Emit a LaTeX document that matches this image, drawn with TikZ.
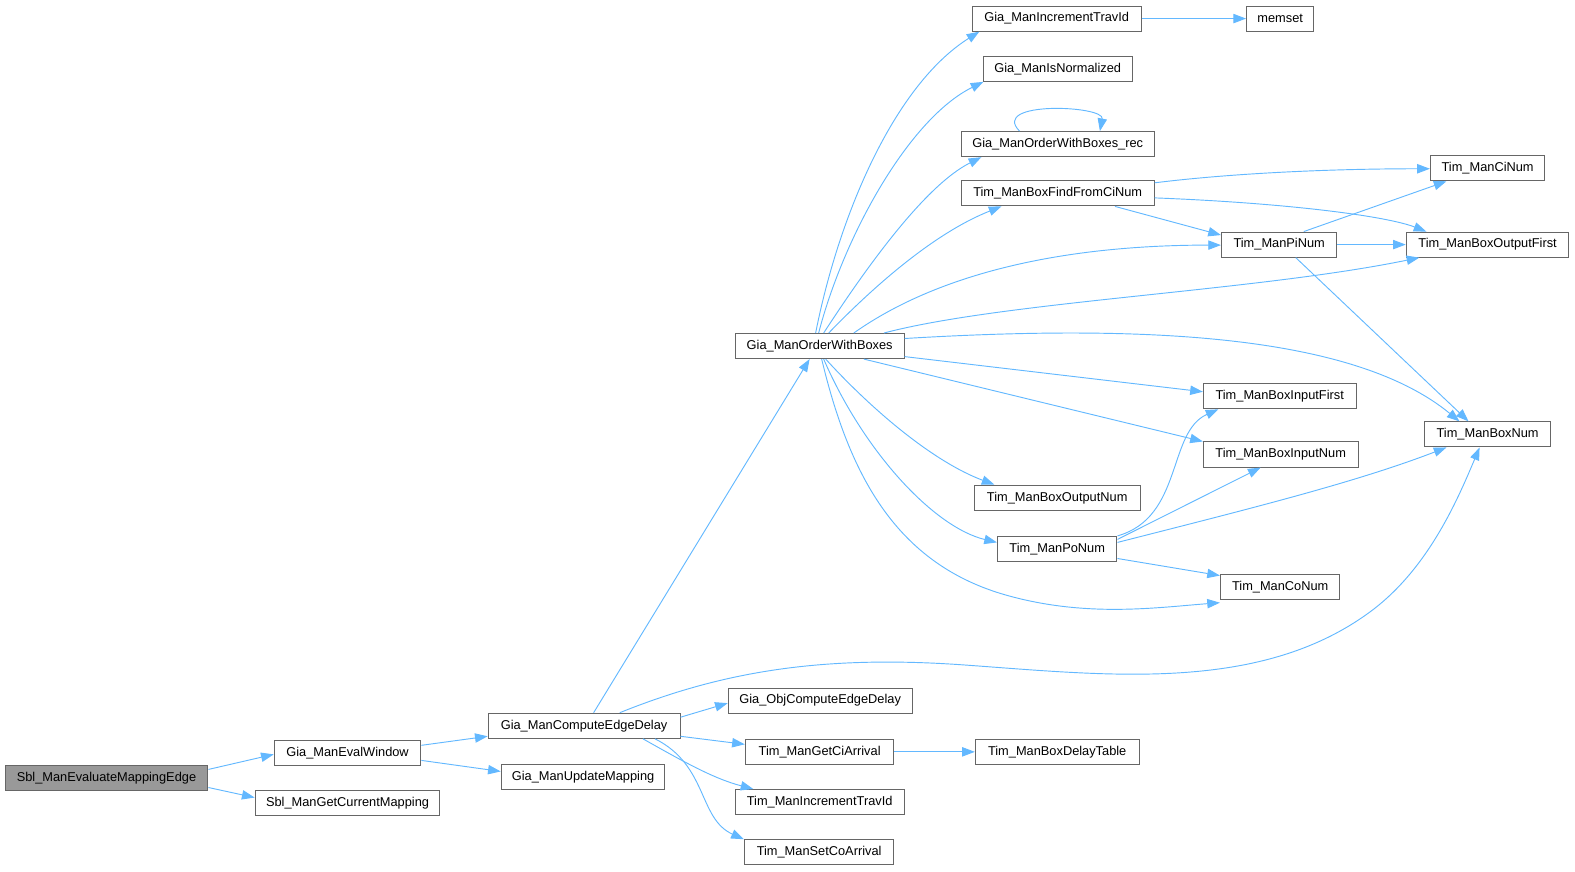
\documentclass[tikz,border=0pt]{standalone}
\usepackage{fontspec}
\setmainfont{Liberation Sans}
\usetikzlibrary{arrows.meta}
\definecolor{edgeblue}{HTML}{63B8FF}
\definecolor{boxgray}{HTML}{666666}
\definecolor{rootgray}{HTML}{999999}
% one call box: name, left, right, top, text
\newcommand{\callnode}[6][]{%
  \node[fn,#1,minimum width={(#4-#3)*0.753pt}] (#2) at ({(#3+#4)/2},{#5+12.5}) {#6};}
\begin{document}
\begin{tikzpicture}[x=0.753pt,y=-0.753pt,>={Triangle[length=9.5pt,width=7pt]},
  fn/.style={draw=boxgray,fill=white,line width=0.75pt,inner sep=0pt,
    minimum height=18.8pt,font=\fontsize{9.6}{11}\selectfont},
  call/.style={draw=edgeblue,line width=0.7pt,->}]
  \useasboundingbox (0,0) rectangle (1568,868);
  % left part
  \callnode[fill=rootgray]{sbl_eval}{5}{207}{762}{Sbl\_ManEvaluateMappingEdge}
  \callnode{gia_evalwin}{273}{419}{737}{Gia\_ManEvalWindow}
  \callnode{sbl_getcur}{254}{438}{787}{Sbl\_ManGetCurrentMapping}
  \callnode{gia_compdelay}{486}{677}{710}{Gia\_ManComputeEdgeDelay}
  \callnode{gia_updmap}{499}{662}{761}{Gia\_ManUpdateMapping}
  % middle column
  \callnode{gia_order}{732}{900}{332}{Gia\_ManOrderWithBoxes}
  \callnode{gia_objdelay}{725}{908}{685}{Gia\_ObjComputeEdgeDelay}
  \callnode{tim_getci}{742}{890}{736}{Tim\_ManGetCiArrival}
  \callnode{tim_inctrav}{732}{900}{786}{Tim\_ManIncrementTravId}
  \callnode{tim_setco}{741}{890}{836}{Tim\_ManSetCoArrival}
  % right part
  \callnode{tim_delaytab}{971}{1134}{736}{Tim\_ManBoxDelayTable}
  \callnode{gia_inctrav}{968}{1136}{6}{Gia\_ManIncrementTravId}
  \callnode{memset}{1241}{1308}{6}{memset}
  \callnode{gia_isnorm}{979}{1127}{56}{Gia\_ManIsNormalized}
  \callnode{gia_order_rec}{957}{1149}{131}{Gia\_ManOrderWithBoxes\_rec}
  \callnode{tim_findci}{957}{1149}{180}{Tim\_ManBoxFindFromCiNum}
  \callnode{tim_cinum}{1424}{1538}{155}{Tim\_ManCiNum}
  \callnode{tim_pinum}{1216}{1331}{231}{Tim\_ManPiNum}
  \callnode{tim_outfirst}{1400}{1562}{231}{Tim\_ManBoxOutputFirst}
  \callnode{tim_infirst}{1198}{1350}{382}{Tim\_ManBoxInputFirst}
  \callnode{tim_boxnum}{1418}{1544}{420}{Tim\_ManBoxNum}
  \callnode{tim_innum}{1198}{1352}{440}{Tim\_ManBoxInputNum}
  \callnode{tim_outnum}{970}{1135}{483}{Tim\_ManBoxOutputNum}
  \callnode{tim_ponum}{993}{1112}{534}{Tim\_ManPoNum}
  \callnode{tim_conum}{1215}{1334}{572}{Tim\_ManCoNum}

  % calls from the root
  \draw[call] (sbl_eval.east |- 0,766) -- (gia_evalwin.west |- 0,751);
  \draw[call] (sbl_eval.east |- 0,784) -- (sbl_getcur.west |- 0,794);
  \draw[call] (gia_evalwin.east |- 0,742) -- (gia_compdelay.west |- 0,733);
  \draw[call] (gia_evalwin.east |- 0,757) -- (gia_updmap.west |- 0,768);
  % Gia_ManComputeEdgeDelay
  \draw[call] (gia_compdelay.north -| 591,0) -- (gia_order.south -| 806,0);
  \draw[call] (gia_compdelay.north -| 617,0) .. controls (720,668) and (820,652) .. (960,662)
    .. controls (1100,672) and (1250,690) .. (1360,612)
    .. controls (1420,570) and (1450,500) .. (tim_boxnum.south -| 1473,0);
  \draw[call] (gia_compdelay.east |- 0,714) -- (gia_objdelay.west |- 0,700);
  \draw[call] (gia_compdelay.east |- 0,733) -- (tim_getci.west |- 0,741);
  \draw[call] (gia_compdelay.south -| 640,0) .. controls (680,758) and (710,775) .. (tim_inctrav.north -| 750,0);
  \draw[call] (gia_compdelay.south -| 652,0) .. controls (705,762) and (695,815) .. (tim_setco.north west);
  \draw[call] (tim_getci.east) -- (tim_delaytab.west);
  % Gia_ManOrderWithBoxes
  \draw[call] (gia_order.north -| 812,0) .. controls (835,215) and (890,85) .. (gia_inctrav.south -| 975,0);
  \draw[call] (gia_order.north -| 815,0) .. controls (840,235) and (905,118) .. (gia_isnorm.south -| 979,0);
  \draw[call] (gia_order.north -| 820,0) .. controls (860,270) and (920,185) .. (gia_order_rec.south -| 977,0);
  \draw[call] (gia_order.north -| 825,0) .. controls (870,285) and (930,232) .. (tim_findci.south -| 997,0);
  \draw[call] (gia_order.north -| 850,0) .. controls (930,275) and (1050,244) .. (tim_pinum.west |- 0,244);
  \draw[call] (gia_order.north -| 880,0) .. controls (1000,300) and (1250,290) .. (tim_outfirst.south -| 1413,0);
  \draw[call] (gia_order.east |- 0,337) .. controls (1150,322) and (1350,335) .. (tim_boxnum.north -| 1453,0);
  \draw[call] (gia_order.east |- 0,355) -- (tim_infirst.west |- 0,390);
  \draw[call] (gia_order.south -| 860,0) -- (tim_innum.north west);
  \draw[call] (gia_order.south -| 822,0) .. controls (870,410) and (930,460) .. (tim_outnum.north -| 990,0);
  \draw[call] (gia_order.south -| 820,0) .. controls (860,450) and (930,525) .. (tim_ponum.west |- 0,540);
  \draw[call] (gia_order.south -| 818,0) .. controls (845,470) and (890,560) .. (1000,592)
    .. controls (1080,615) and (1150,605) .. (tim_conum.west |- 0,600);
  % the recursion
  \draw[call] (gia_order_rec.north -| 1015,0) .. controls (985,100) and (1100,105) .. (gia_order_rec.north -| 1095,0);
  \draw[call] (gia_inctrav.east) -- (memset.west);
  % Tim_ManBoxFindFromCiNum
  \draw[call] (tim_findci.east |- 0,182) .. controls (1230,172) and (1330,168) .. (tim_cinum.west |- 0,168);
  \draw[call] (tim_findci.east |- 0,197) .. controls (1280,202) and (1380,215) .. (tim_outfirst.north -| 1420,0);
  \draw[call] (tim_findci.south -| 1110,0) -- (tim_pinum.west |- 0,234);
  % Tim_ManPiNum
  \draw[call] (tim_pinum.north -| 1298,0) -- (tim_cinum.south -| 1440,0);
  \draw[call] (tim_pinum.east) -- (tim_outfirst.west);
  \draw[call] (tim_pinum.south -| 1290,0) -- (tim_boxnum.north -| 1462,0);
  % Tim_ManPoNum
  \draw[call] (tim_ponum.north east) .. controls (1178,515) and (1162,430) .. (tim_infirst.south -| 1213,0);
  \draw[call] (tim_ponum.east |- 0,537) -- (tim_innum.south -| 1255,0);
  \draw[call] (tim_ponum.east |- 0,540) .. controls (1250,505) and (1350,480) .. (tim_boxnum.south -| 1440,0);
  \draw[call] (tim_ponum.east |- 0,556) -- (tim_conum.west |- 0,573);
\end{tikzpicture}
\end{document}
